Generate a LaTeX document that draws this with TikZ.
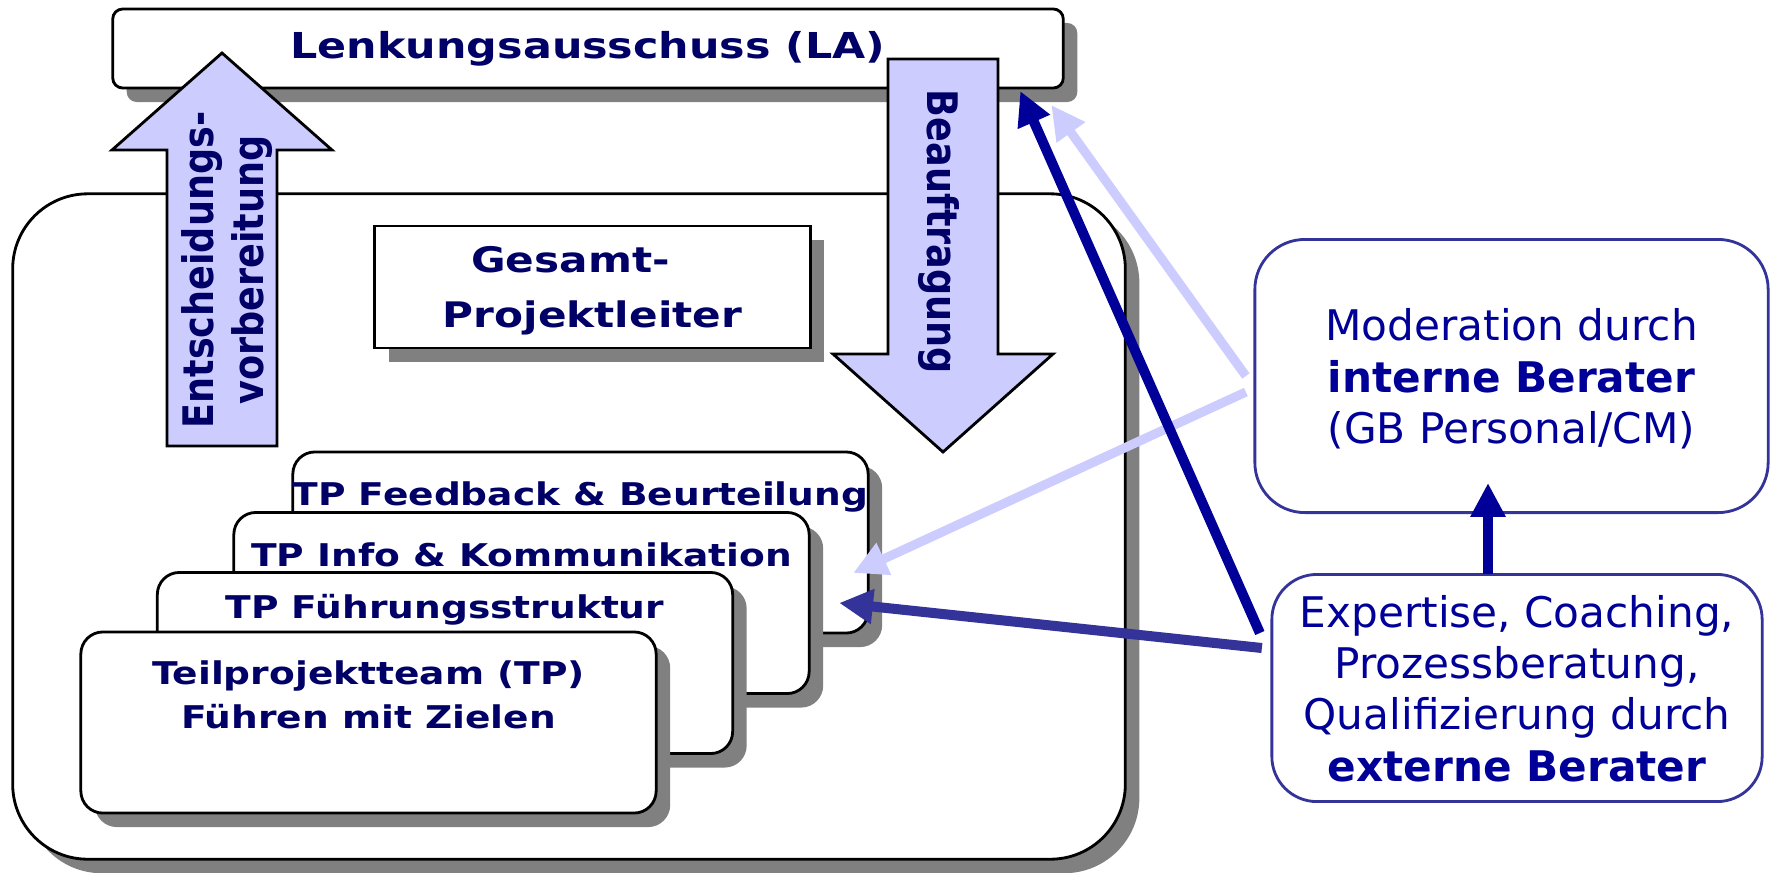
\documentclass[tikz,border=0pt]{standalone}
\usepackage{fontspec}
\setmainfont{DejaVu Sans}
\newfontfamily\widefont{DejaVu Sans}[FakeStretch=1.2]
\newfontfamily\rotfont{DejaVu Sans}[FakeStretch=0.87,Scale=1.15]
\usetikzlibrary{arrows.meta,shadows,calc}
\definecolor{navytext}{HTML}{000066}
\definecolor{bluetext}{HTML}{000099}
\definecolor{darkarrow}{HTML}{000099}
\definecolor{midarrow}{HTML}{333399}
\definecolor{lightarrow}{HTML}{CCCCFF}
\definecolor{shadowgray}{HTML}{808080}

\begin{document}
\begin{tikzpicture}[x=0.01cm,y=-0.01cm,>={Triangle[length=9.6pt,width=9.4pt]},
    shadowed/.style={drop shadow={shadow xshift=1.4mm,shadow yshift=-1.4mm,opacity=1,fill=shadowgray}},
    left box/.style={draw,line width=0.8pt,fill=white,inner sep=0pt,outer sep=0pt,shadowed,text=navytext,font=\widefont\fontsize{10}{15.4}\selectfont\bfseries,align=center},
    tp box/.style={left box,rounded corners=0.22cm,minimum width=5.75cm,minimum height=1.81cm},
    tp text/.style={inner sep=0pt,text=navytext,font=\widefont\fontsize{8.9}{12.6}\selectfont\bfseries,align=center},
    block arrow/.style={draw,line width=0.8pt,fill=lightarrow},
    arrow text/.style={inner sep=0pt,text=navytext,font=\rotfont\fontsize{10.4}{14.2}\selectfont\bfseries,align=center},
    berater node/.style={draw=midarrow,line width=0.8pt,fill=white,inner sep=0pt,outer sep=0pt,text depth=0pt,text=bluetext,font=\fontsize{12}{14.6}\selectfont,align=center},
    link/.style={->,line width=2.85pt}]
    \useasboundingbox (0,0) rectangle (1770,872);

    \node[left box,rounded corners=0.1cm,minimum width=9.5cm,minimum height=0.79cm,font=\widefont\fontsize{10.15}{14}\selectfont\bfseries] (la) at (588,48.5) {Lenkungsausschuss (LA)};
    \node[left box,rounded corners=0.75cm,minimum width=11.12cm,minimum height=6.65cm] (cont) at (569,526.5) {};
    \node[left box,text depth=0pt,minimum width=4.35cm,minimum height=1.22cm] (pl) at (592.5,287) {Gesamt-\hspace*{12.5pt}\\Projektleiter};

    % Teilprojekte
    \node[tp box] (tp1) at (580.5,542.5) {};
    \node[tp text,anchor=base] (tp1 text) at ($(tp1.north)+(0,54)$) {TP Feedback \& Beurteilung};
    \node[tp box] (tp2) at (521.5,603) {};
    \node[tp text,anchor=base] (tp2 text) at ($(tp2.north)+(0,54)$) {TP Info \& Kommunikation};
    \node[tp box] (tp3) at (445,663) {};
    \node[tp text,anchor=base] (tp3 text) at ($(tp3.north)+(0,46)$) {TP Führungsstruktur};
    \node[tp box] (tp4) at (368.5,722.5) {};
    \node[tp text,anchor=north] (tp4 text) at ($(tp4.north)+(0,28)$) {Teilprojektteam (TP)\\Führen mit Zielen};

    % Blockpfeile
    \draw[block arrow] (167,446) -- (167,150) -- (112,150) -- (222,53) -- (332,150) -- (277,150) -- (277,446) -- cycle;
    \node[arrow text,rotate=90] (entsch) at (227,270) {Entscheidungs-\\vorbereitung};
    \draw[block arrow] (888,59) -- (888,354) -- (833,354) -- (943,452) -- (1053,354) -- (998,354) -- (998,59) -- cycle;
    \node[arrow text,rotate=-90] (beauftr) at (939,232) {Beauftragung};

    % Berater
    \node[berater node,rounded corners=0.5cm,minimum width=5.13cm,minimum height=2.73cm] (mod) at (1511.5,376) {Moderation durch\\\textbf{interne Berater}\\(GB Personal/CM)};
    \node[berater node,rounded corners=0.45cm,minimum width=4.9cm,minimum height=2.27cm] (ext) at (1517,688) {Expertise, Coaching,\\Prozessberatung,\\Qualifizierung durch\\\textbf{externe Berater}};

    \coordinate (la dark) at ($(la.south east)+(-43,3)$);
    \coordinate (la light) at ($(la.south east)+(-12,17)$);
    \coordinate (tp light) at ($(tp1.north east)+(-15,121)$);
    \coordinate (tp mid) at ($(tp1.north east)+(-29,151)$);
    \coordinate (mod in) at (1488,483);

    \path[link]
        [color=lightarrow,line width=2.6pt]
        ($(mod.west)+(-9,0)$) edge (la light)
        ($(mod.west)+(-9,16)$) edge (tp light)
    ;
    \path[link]
        [color=midarrow]
        ($(ext.west)+(-10,-40)$) edge (tp mid)
    ;
    \path[link]
        [color=darkarrow]
        ($(ext.west)+(-12,-55)$) edge (la dark)
        (ext.north -| mod in) edge (mod in)
    ;
\end{tikzpicture}
\end{document}
